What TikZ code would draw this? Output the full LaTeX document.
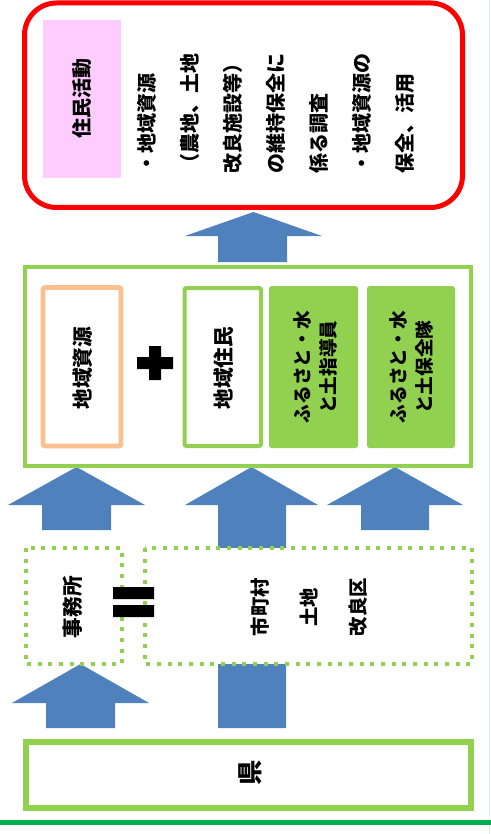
\documentclass[tikz,border=0pt]{standalone}
\usepackage{fontspec}
\setmainfont{Noto Sans CJK JP}
\definecolor{arrowblue}{RGB}{79,129,189}
\definecolor{boxgreen}{RGB}{146,208,80}
\definecolor{boxred}{RGB}{255,0,0}
\definecolor{peach}{RGB}{250,192,144}
\definecolor{pinkfill}{RGB}{255,204,255}
\definecolor{linegreen}{RGB}{0,176,80}
\definecolor{edgeteal}{RGB}{222,240,236}
\tikzset{
	vtext/.style={rotate=90, inner sep=0.75pt, align=center},
	bluearrow/.style={fill=arrowblue},
	greenframe/.style={draw=boxgreen, line width=3.5pt},
	dotframe/.style={draw=boxgreen, line width=3pt, dash pattern=on 3pt off 5pt, fill=white},
}
\begin{document}
\begin{tikzpicture}[x=0.75pt,y=0.75pt,yscale=-1,xscale=1]
		\useasboundingbox (0,0) rectangle (491,834);
		
		%Edge Lines
		\draw [color=edgeteal, line width=0.75pt]    (489,0) -- (489,834) ;
		\draw [color=linegreen, line width=3.75pt]    (0,822.5) -- (491,822.5) ;
		
		%Rounded Rect (activities)
		\draw [draw=boxred, line width=3.75pt, fill=white, rounded corners=24pt]    (24.5,3) rectangle (462.5,207.5) ;
		\fill [pinkfill]    (43,20) rectangle (121,178) ;
		
		%Block Arrows
		\fill [bluearrow]    (218,262) -- (218,236) -- (185,236) -- (253.5,212) -- (322,236) -- (287,236) -- (287,262) -- cycle ;
		\fill [bluearrow]    (42,530) -- (42,505) -- (8,505) -- (76.5,467) -- (145,505) -- (111,505) -- (111,530) -- cycle ;
		\fill [bluearrow]    (218,728) -- (218,505) -- (185,505) -- (251.5,467) -- (318,505) -- (286,505) -- (286,728) -- cycle ;
		\fill [bluearrow]    (361,530) -- (361,505) -- (327,505) -- (395,467) -- (463,505) -- (429,505) -- (429,530) -- cycle ;
		\fill [bluearrow]    (46,728) -- (46,703) -- (12,703) -- (80.5,664) -- (149,703) -- (115,703) -- (115,728) -- cycle ;
		
		%Rect (actors)
		\draw [greenframe, fill=white]    (25,267) rectangle (471,466) ;
		\draw [draw=peach, line width=3.5pt, fill=white, rounded corners=1.5pt]    (43,287.5) rectangle (121,446) ;
		\draw [greenframe, line width=3pt, fill=white, rounded corners=1.5pt]    (184.5,288) rectangle (261,446) ;
		\fill [boxgreen, rounded corners=2pt]    (269,286) rectangle (358,448) ;
		\fill [boxgreen, rounded corners=2pt]    (367,286) rectangle (455,448) ;
		%Plus
		\fill [black]    (137,357) rectangle (173,369) (149,346) rectangle (161,380) ;
		
		%Dotted Rects
		\draw [dotframe]    (25.5,548) rectangle (122,664) ;
		\draw [dotframe]    (145,548) rectangle (472,664) ;
		%Equal
		\fill [black]    (113,587) rectangle (154,599) (113,605) rectangle (154,617) ;
		
		%Rect (prefecture)
		\draw [greenframe, line width=4pt, fill=white]    (26,742) rectangle (471,808) ;
		
		% Text Node
		\draw (82,99) node (katsudo) [vtext, font=\fontsize{15}{18}\selectfont\bfseries]    {住民活動};
		% Text Node
		\draw (137,174) node (naiyo) [vtext, anchor=north west, align=left, inner sep=0pt, font=\fontsize{15}{32.3}\selectfont\bfseries]    {・地域資源\\（農地、土地\\改良施設等）\\の維持保全に\\係る調査\\・地域資源の\\保全、活用};
		% Text Node
		\draw (83,368) node (shigen) [vtext, font=\fontsize{15.5}{18}\selectfont\bfseries]    {地域資源};
		% Text Node
		\draw (224,368) node (jumin) [vtext, font=\fontsize{15.5}{18}\selectfont\bfseries]    {地域住民};
		% Text Node
		\draw (315,367) node (shidoin) [vtext, font=\fontsize{14}{19.5}\selectfont\bfseries]    {ふるさと・水\\と土指導員};
		% Text Node
		\draw (411,367) node (hozentai) [vtext, font=\fontsize{14}{19.5}\selectfont\bfseries]    {ふるさと・水\\と土保全隊};
		% Text Node
		\draw (73,607) node (jimusho) [vtext, font=\fontsize{15.5}{18}\selectfont\bfseries]    {事務所};
		% Text Node
		\draw (309,607) node (kairyoku) [vtext, font=\fontsize{14.5}{36.5}\selectfont\bfseries]    {市町村\\土地\\改良区};
		% Text Node
		\draw (250,773) node (ken) [vtext, font=\fontsize{19}{22}\selectfont\bfseries]    {県};
		
\end{tikzpicture}
\end{document}
